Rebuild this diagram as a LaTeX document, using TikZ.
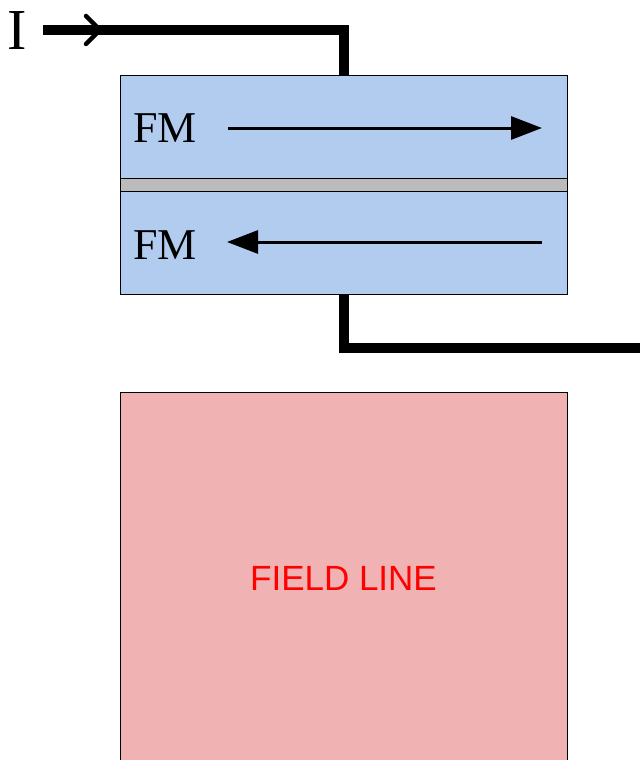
\documentclass[tikz,border=0pt]{standalone}
\usepackage{fontspec}
\setmainfont{Liberation Serif}
\newfontfamily\labelsans{Liberation Sans}
\usetikzlibrary{arrows.meta,decorations.markings}

\definecolor{fmblue}{RGB}{178,204,240}
\definecolor{spacergray}{RGB}{187,187,187}
\definecolor{fieldpink}{RGB}{240,178,178}
\definecolor{fieldred}{RGB}{255,0,0}

\tikzset{
  layer/.style={draw=black, line width=1pt, inner sep=0pt, minimum width=447pt},
  fmlayer/.style={layer, fill=fmblue, minimum height=103pt},
  spacer/.style={layer, fill=spacergray, minimum height=13pt},
  fieldbox/.style={layer, fill=fieldpink, minimum height=372pt,
    text=fieldred, font=\labelsans\fontsize{35}{35}\selectfont},
  fmlabel/.style={anchor=west, inner sep=0pt, font=\fontsize{44}{44}\selectfont},
  magarrow/.style={line width=3pt, -{Triangle[length=31pt,width=23pt]}},
  wire/.style={line width=10pt, line join=miter},
  current/.style={postaction={decorate}, decoration={markings,
    mark=at position 57pt with {\draw[line width=4.5pt, line cap=round, line join=miter]
      (-14pt,-14pt) -- (0pt,0pt) -- (-14pt,14pt);}}}
}

\begin{document}
\begin{tikzpicture}[x=1pt, y=-1pt]
  \clip (0,0) rectangle (640,760);

  % ferromagnet / spacer / ferromagnet stack
  \node[fmlayer] (topfm) at (343.5,126.5) {};
  \node[spacer]  (gap)   at (343.5,184.5) {};
  \node[fmlayer] (botfm) at (343.5,242.5) {};

  \node[fmlabel] (fm1) at (133,128) {FM};
  \node[fmlabel] (fm2) at (133,245) {FM};

  % magnetisation directions
  \coordinate (m1a) at (228,128);
  \coordinate (m1b) at (542,128);
  \coordinate (m2a) at (542,242);
  \coordinate (m2b) at (227,242);
  \draw[magarrow] (m1a) -- (m1b);
  \draw[magarrow] (m2a) -- (m2b);

  % current leads
  \node[inner sep=0pt, font=\fontsize{58}{58}\selectfont] (cur) at (17,31) {I};
  \coordinate (leadin)  at (43,30);
  \coordinate (leadout) at (640,348);
  \draw[wire, current] (leadin) -| (topfm.north);
  \draw[wire] (botfm.south) |- (leadout);

  % field line below the stack
  \node[fieldbox] (field) at (343.5,578) {FIELD LINE};
\end{tikzpicture}
\end{document}
